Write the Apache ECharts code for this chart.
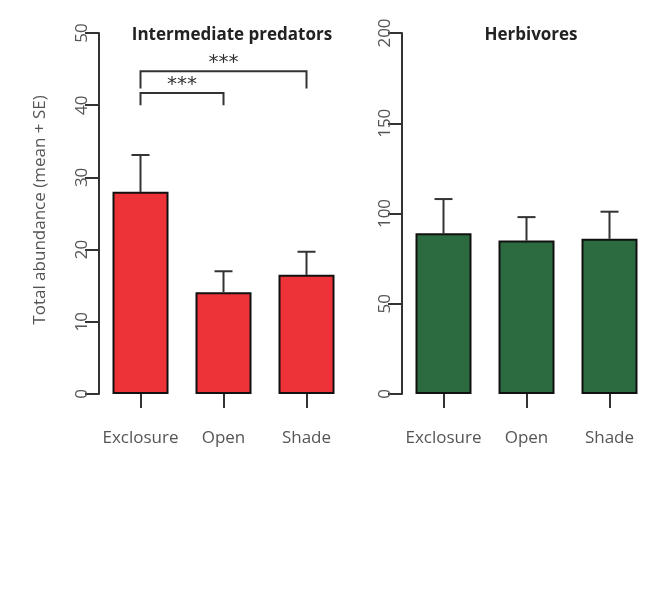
<!DOCTYPE html>
<html><head><meta charset="utf-8">
<script src="https://cdn.jsdelivr.net/npm/echarts@6/dist/echarts.min.js"></script>
<style>html,body{margin:0;background:#fff}#c{width:672px;height:606px}</style>
</head><body><div id="c"></div>
<script>
const categories = ['Exclosure','Open','Shade'];
const predMean = [28, 14.1, 16.5];
const predUpper = [33.1, 17, 19.7];
const herbMean = [89, 85, 86];
const herbUpper = [108, 98, 101];
const predTicks = [0,10,20,30,40,50];
const herbTicks = [0,50,100,150,200];
// brackets: [fromCat, toCat, legBottom, barTop]
const brackets = [[0,1,40,41.7],[0,2,42.3,44.7]];
const chart = echarts.init(document.getElementById('c'));
const axisCol = '#333';
const font = 'Open Sans, sans-serif';
function xAx(i){return {type:'category',gridIndex:i,data:categories,
  axisLine:{show:false},axisTick:{show:true,alignWithLabel:true,length:14,lineStyle:{color:axisCol,width:2}},
  axisLabel:{interval:0,margin:36,fontSize:17,color:'#555',fontFamily:font}};}
function yAx(i,max,interval){return {type:'value',gridIndex:i,min:0,max:max,interval:interval,
  axisLine:{show:true,lineStyle:{color:axisCol,width:2}},axisTick:{show:true,length:14,lineStyle:{color:axisCol,width:2}},
  splitLine:{show:false},axisLabel:{rotate:90,fontSize:17,color:'#555',margin:8,fontFamily:font}};}
function err(i,mean,upper){return {type:'custom',xAxisIndex:i,yAxisIndex:i,z:1,
  data:mean.map((m,k)=>[k,m,upper[k]]),
  renderItem:(p,api)=>{const a=api.coord([api.value(0),api.value(1)]);const b=api.coord([api.value(0),api.value(2)]);
   return {type:'group',children:[
    {type:'line',shape:{x1:a[0],y1:a[1],x2:b[0],y2:b[1]},style:{stroke:axisCol,lineWidth:2}},
    {type:'line',shape:{x1:b[0]-9,y1:b[1],x2:b[0]+9,y2:b[1]},style:{stroke:axisCol,lineWidth:2}}]};}};}
chart.setOption({
  animation:false,
  title:[{text:'Intermediate predators',left:227,top:22,textAlign:'center',textStyle:{fontSize:17,fontWeight:'bold',color:'#222',fontFamily:font}},
         {text:'Herbivores',left:526,top:22,textAlign:'center',textStyle:{fontSize:17,fontWeight:'bold',color:'#222',fontFamily:font}}],
  graphic:[{type:'text',x:40,y:210,rotation:Math.PI/2,style:{text:'Total abundance (mean + SE)',fontSize:17,fontFamily:'Open Sans',fill:'#555',align:'center',verticalAlign:'middle'}}],
  grid:[{left:99,top:33,width:249,height:361},{left:402,top:33,width:249,height:361}],
  xAxis:[xAx(0),xAx(1)],
  yAxis:[yAx(0,50,10),yAx(1,200,50)],
  series:[
    {type:'bar',xAxisIndex:0,yAxisIndex:0,data:predMean,barWidth:56,z:2,itemStyle:{color:'#ee3338',borderColor:'#111',borderWidth:2}},
    {type:'bar',xAxisIndex:1,yAxisIndex:1,data:herbMean,barWidth:56,z:2,itemStyle:{color:'#2c6a40',borderColor:'#111',borderWidth:2}},
    err(0,predMean,predUpper), err(1,herbMean,herbUpper),
    {type:'custom',xAxisIndex:0,yAxisIndex:0,data:brackets,
     renderItem:(p,api)=>{const a=api.coord([api.value(0),api.value(2)]);const t=api.coord([api.value(0),api.value(3)]);const b=api.coord([api.value(1),api.value(2)]);
      return {type:'group',children:[
       {type:'polyline',shape:{points:[a,[a[0],t[1]],[b[0],t[1]],b]},style:{stroke:axisCol,lineWidth:2,fill:null}},
       {type:'text',style:{text:'***',x:(a[0]+b[0])/2,y:t[1]+2,align:'center',verticalAlign:'bottom',fontSize:20,fill:'#333',fontFamily:'DejaVu Sans'}}]};}}
  ]
});
</script></body></html>
